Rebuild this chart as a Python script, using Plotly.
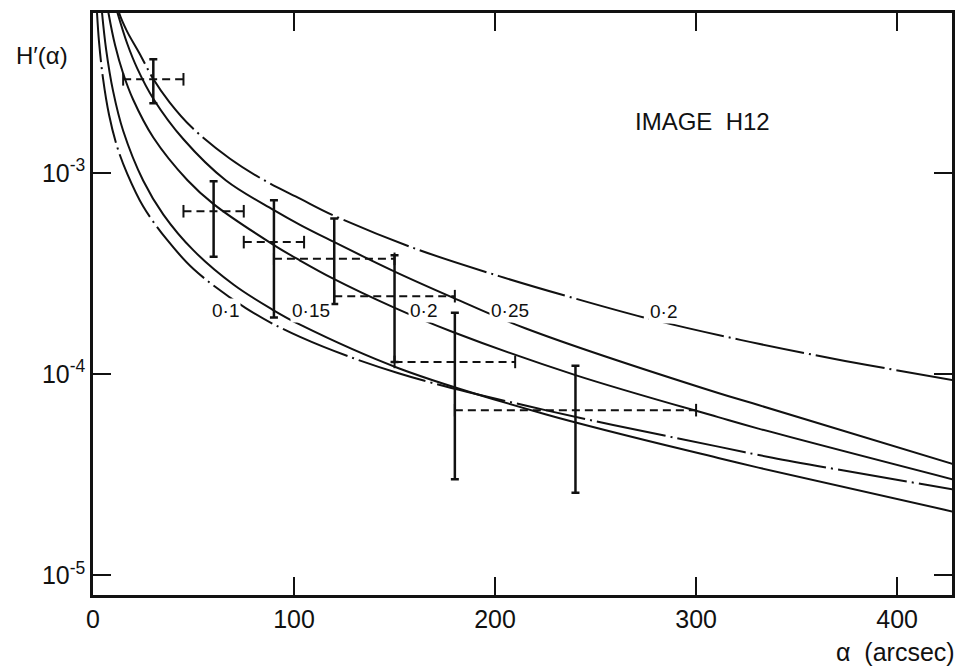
import math
import plotly.graph_objects as go

# ---- measured points (error bars) ----
alpha_pts = [30, 60, 90, 120, 150, 180, 240]
H_center = [2.92e-3, 6.45e-4, 4.53e-4, 3.74e-4, 2.44e-4, 1.15e-4, 6.62e-5]
H_upper = [3.67e-3, 9.09e-4, 7.32e-4, 5.93e-4, 3.90e-4, 2.02e-4, 1.10e-4]
H_lower = [2.22e-3, 3.83e-4, 1.91e-4, 2.23e-4, 1.15e-4, 3.00e-5, 2.57e-5]
alpha_lo = [15, 45, 75, 90, 120, 150, 180]
alpha_hi = [45, 75, 105, 150, 180, 210, 300]

# ---- model curves ----
c1_alpha = [3.5, 4.5, 6.5, 10, 15, 25, 35, 50, 70, 89, 103, 152, 225, 311, 331, 428]
c1_H = [8.3e-3, 6.24e-3, 4.13e-3, 2.55e-3, 1.62e-3, 9.14e-4, 6.21e-4, 4.12e-4,
        2.78e-4, 2.10e-4, 1.76e-4, 1.07e-4, 6.32e-5, 3.83e-5, 3.43e-5, 2.07e-5]

c2_alpha = [1.5, 2, 3, 5, 8, 12, 17, 25, 37, 50, 76, 103, 152, 225, 311, 338, 428]
c2_H = [7.9e-3, 6.24e-3, 4.48e-3, 2.94e-3, 1.94e-3, 1.35e-3, 9.93e-4, 6.81e-4,
        4.63e-4, 3.33e-4, 2.13e-4, 1.53e-4, 1.01e-4, 6.62e-5, 4.36e-5, 3.84e-5, 2.67e-5]

c3_alpha = [6.5, 7.7, 11, 15, 20, 30, 47, 60, 90, 103, 119, 149, 179, 240, 311, 331, 428]
c3_H = [7.4e-3, 6.24e-3, 4.31e-3, 3.12e-3, 2.31e-3, 1.50e-3, 9.2e-4, 7.0e-4,
        4.38e-4, 3.67e-4, 3.0e-4, 2.16e-4, 1.62e-4, 9.89e-5, 6.11e-5, 5.36e-5, 2.99e-5]

c4_alpha = [10.5, 12.2, 17, 22, 30, 45, 66, 90, 103, 119, 149, 179, 215, 311, 331, 428]
c4_H = [7.2e-3, 6.24e-3, 4.40e-3, 3.31e-3, 2.34e-3, 1.47e-3, 9.2e-4, 6.53e-4,
        5.52e-4, 4.58e-4, 3.27e-4, 2.40e-4, 1.69e-4, 8.05e-5, 7.02e-5, 3.57e-5]

c5_alpha = [11.5, 13, 17, 23, 30, 38, 49, 68, 86, 103, 119, 159, 202, 237, 276, 322, 369, 428]
c5_H = [7.2e-3, 6.24e-3, 5.04e-3, 3.95e-3, 2.93e-3, 2.25e-3, 1.69e-3, 1.18e-3,
        9.09e-4, 7.45e-4, 6.19e-4, 4.25e-4, 3.07e-4, 2.42e-4, 1.89e-4, 1.48e-4,
        1.19e-4, 9.33e-5]

# curve labels
label_text = ["0·1", "0·15", "0·2", "0·25", "0·2"]
label_alpha = [66, 108.5, 164.5, 207.5, 284]
label_H = [2.08e-4, 2.08e-4, 2.08e-4, 2.08e-4, 2.04e-4]

x_tickvals = [0, 100, 200, 300, 400]
x_ticktext = ["0", "100", "200", "300", "400"]
y_tickvals = [1e-5, 1e-4, 1e-3]
y_ticktext = ["10<sup>-5</sup>", "10<sup>-4</sup>", "10<sup>-3</sup>"]

FONT = "Liberation Sans, Arial, sans-serif"
BLACK = "#111111"
DASHDOT = "70px,5px,2px,5px"

fig = go.Figure()

curves = [
    (c1_alpha, c1_H, "solid"),
    (c2_alpha, c2_H, DASHDOT),
    (c3_alpha, c3_H, "solid"),
    (c4_alpha, c4_H, "solid"),
    (c5_alpha, c5_H, DASHDOT),
]
for xa, ya, dash in curves:
    fig.add_trace(go.Scatter(
        x=xa, y=ya, mode="lines",
        line=dict(color=BLACK, width=2, dash=dash, shape="spline", smoothing=1.0),
        hoverinfo="skip", showlegend=False))

# horizontal dashed bars
hx, hy = [], []
for lo, hi, c in zip(alpha_lo, alpha_hi, H_center):
    hx += [lo, hi, None]
    hy += [c, c, None]
fig.add_trace(go.Scatter(
    x=hx, y=hy, mode="lines",
    line=dict(color=BLACK, width=2, dash="8px,5px"),
    hoverinfo="skip", showlegend=False))

# caps at the ends of horizontal bars
fig.add_trace(go.Scatter(
    x=alpha_lo + alpha_hi, y=H_center + H_center, mode="markers",
    marker=dict(symbol="line-ns", size=9, line=dict(color=BLACK, width=2)),
    hoverinfo="skip", showlegend=False))

# vertical error bars
fig.add_trace(go.Scatter(
    x=alpha_pts, y=H_center, mode="markers",
    marker=dict(size=1, color="rgba(0,0,0,0)"),
    error_y=dict(type="data", symmetric=False,
                 array=[u - c for u, c in zip(H_upper, H_center)],
                 arrayminus=[c - l for c, l in zip(H_center, H_lower)],
                 color=BLACK, thickness=2.5, width=4),
    hoverinfo="skip", showlegend=False))

annotations = []
for t, a, h in zip(label_text, label_alpha, label_H):
    annotations.append(dict(x=a, y=math.log10(h), xref="x", yref="y", text=t,
                            showarrow=False, font=dict(family=FONT, size=19, color=BLACK),
                            bgcolor="white", xanchor="center", yanchor="middle"))
annotations.append(dict(x=303, y=-2.743, xref="x", yref="y", text="IMAGE&nbsp;&nbsp;H12",
                        showarrow=False, xanchor="center", yanchor="middle",
                        font=dict(family=FONT, size=24, color=BLACK)))
annotations.append(dict(x=-0.059, y=0.927, xref="paper", yref="paper", text="H′(α)",
                        showarrow=False, xanchor="center", yanchor="middle",
                        font=dict(family=FONT, size=24, color=BLACK)))
annotations.append(dict(x=1.006, y=-0.098, xref="paper", yref="paper", xanchor="right",
                        yanchor="middle", text="α&nbsp;&nbsp;(arcsec)", showarrow=False,
                        font=dict(family=FONT, size=25, color=BLACK)))

axis_common = dict(showline=True, linewidth=2.5, linecolor=BLACK, mirror="ticks",
                   ticks="inside", ticklen=18, tickwidth=2, tickcolor=BLACK,
                   showgrid=False, zeroline=False,
                   tickfont=dict(family=FONT, size=25, color=BLACK))

fig.update_layout(
    width=962, height=667,
    margin=dict(l=93, r=7, t=13, b=72),
    paper_bgcolor="white", plot_bgcolor="white",
    xaxis=dict(range=[0, 427.3], tickvals=x_tickvals, ticktext=x_ticktext, **axis_common),
    yaxis=dict(type="log", range=[-5.098, -2.205], tickvals=y_tickvals,
               ticktext=y_ticktext, **axis_common),
    annotations=annotations,
)

fig.write_html("out.html")
